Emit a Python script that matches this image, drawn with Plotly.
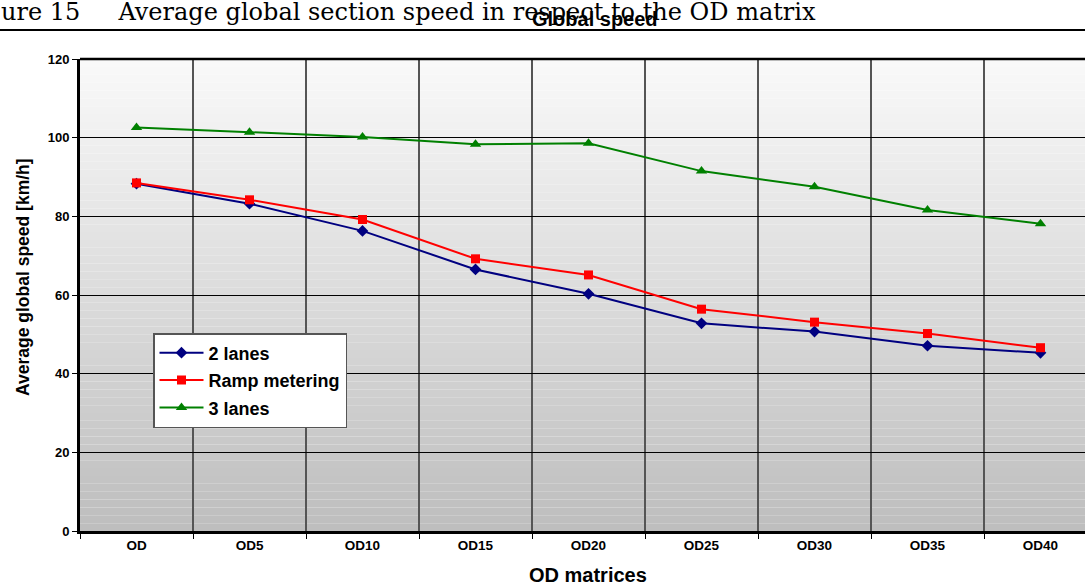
import plotly.graph_objects as go

categories = ["OD", "OD5", "OD10", "OD15", "OD20", "OD25", "OD30", "OD35", "OD40"]
two_lanes = [88.3, 83.2, 76.3, 66.5, 60.3, 52.8, 50.7, 47.1, 45.3]
ramp_metering = [88.5, 84.2, 79.2, 69.2, 65.1, 56.4, 53.1, 50.2, 46.6]
three_lanes = [102.6, 101.4, 100.2, 98.3, 98.6, 91.5, 87.5, 81.6, 78.1]
y_ticks = [0, 20, 40, 60, 80, 100, 120]

W, H = 1085, 587
L, R, T, B = 80, 0, 59, 56
PW, PH = W - L - R, H - T - B

def px_x(px):
    return (px - L) / PW

def px_y(py):
    return (H - B - py) / PH

fig = go.Figure()
fig.add_trace(go.Scatter(x=categories, y=two_lanes, name="2 lanes", mode="lines+markers",
                         legendgroup="a",
                         line=dict(color="#000080", width=2),
                         marker=dict(symbol="diamond", size=9, color="#000080")))
fig.add_trace(go.Scatter(x=categories, y=ramp_metering, name="Ramp metering", mode="lines+markers",
                         legendgroup="b",
                         line=dict(color="#FF0000", width=2),
                         marker=dict(symbol="square", size=9, color="#FF0000")))
fig.add_trace(go.Scatter(x=categories, y=three_lanes, name="3 lanes", mode="lines+markers",
                         legendgroup="c",
                         line=dict(color="#008000", width=2),
                         marker=dict(symbol="triangle-up", size=10, color="#008000")))

# gradient background
shapes = []
n = 60
for i in range(n):
    t = i / (n - 1)
    c = int(round(249 - (249 - 190) * t))
    y1 = 1 - i / n
    y0 = 1 - (i + 1) / n
    shapes.append(dict(type="rect", xref="paper", yref="paper", x0=0, x1=1, y0=y0, y1=y1,
                       fillcolor=f"rgb({c},{c},{c})", line=dict(width=0), layer="below"))
# top border of plot
shapes.append(dict(type="line", xref="paper", yref="paper", x0=0, x1=1, y0=1, y1=1,
                   line=dict(color="black", width=2.5)))
# caption rule
shapes.append(dict(type="line", xref="paper", yref="paper", x0=px_x(0), x1=1, y0=px_y(30), y1=px_y(30),
                   line=dict(color="black", width=2)))

nb = "\u00a0"
annotations = [
    dict(text="ure 15" + nb * 5 + "Average global section speed in respect to the OD matrix",
         xref="paper", yref="paper", x=px_x(-1), y=px_y(12), xanchor="left", yanchor="middle",
         showarrow=False, font=dict(family="DejaVu Serif", size=24, color="black")),
    dict(text="<b>Global speed</b>", xref="paper", yref="paper", x=px_x(595), y=px_y(19),
         xanchor="center", yanchor="middle", showarrow=False,
         font=dict(family="Liberation Sans", size=20, color="black")),
    dict(text="<b>Average global speed [km/h]</b>", xref="paper", yref="paper",
         x=px_x(23), y=px_y(277), xanchor="center", yanchor="middle", textangle=-90,
         showarrow=False, font=dict(family="Liberation Sans", size=17.5, color="black")),
    dict(text="<b>OD matrices</b>", xref="paper", yref="paper",
         x=px_x(588), y=px_y(575), xanchor="center", yanchor="middle",
         showarrow=False, font=dict(family="Liberation Sans", size=20, color="black")),
]

fig.update_layout(
    width=W, height=H,
    margin=dict(l=L, r=R, t=T, b=B),
    paper_bgcolor="white",
    plot_bgcolor="rgba(0,0,0,0)",
    font=dict(family="Liberation Sans", color="black"),
    shapes=shapes,
    annotations=annotations,
    showlegend=True,
    legend=dict(x=px_x(153), y=px_y(333), xanchor="left", yanchor="top",
                bgcolor="white", bordercolor="#555555", borderwidth=1.5,
                font=dict(family="Liberation Sans", size=18, color="black", weight="bold"),
                itemwidth=44, tracegroupgap=1),
    xaxis=dict(type="category", categoryorder="array", categoryarray=categories,
               range=[-0.5, 8.5 - 12 / 113], tickson="boundaries",
               showgrid=True, gridcolor="#555555", gridwidth=1.5,
               showline=True, linecolor="black", linewidth=3,
               ticks="outside", ticklen=5, tickcolor="black",
               tickfont=dict(family="Liberation Sans", size=13.5, color="black", weight="bold")),
    yaxis=dict(range=[0, 120], tickvals=y_ticks, showgrid=True, gridcolor="black", gridwidth=1,
               showline=True, linecolor="black", linewidth=3, zeroline=False,
               ticks="outside", ticklen=5, tickcolor="black",
               tickfont=dict(family="Liberation Sans", size=13, color="black", weight="bold")),
)

fig.write_html("out.html", config={"displayModeBar": False},
               post_script="document.body.style.margin='0';document.body.style.overflow='hidden';")
